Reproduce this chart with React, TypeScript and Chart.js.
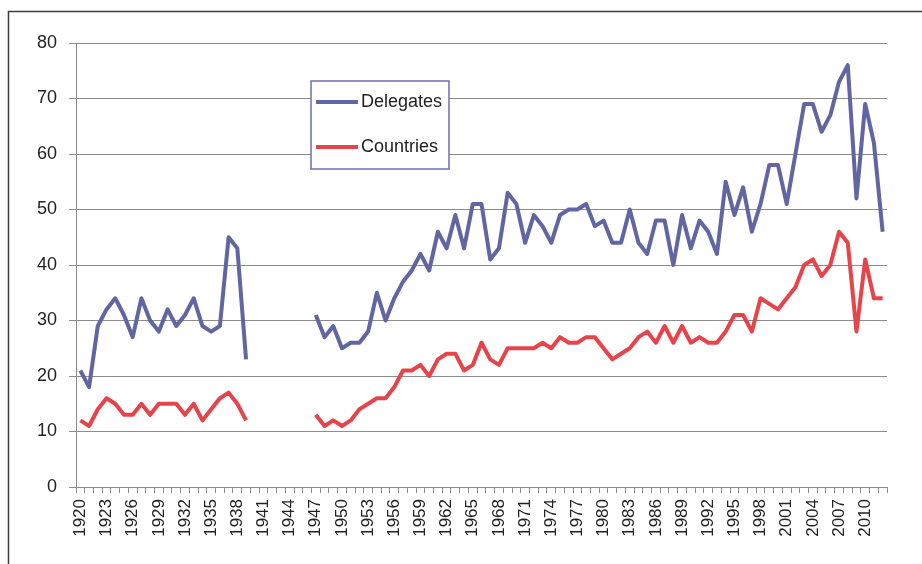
import React, { useEffect, useRef } from "react";
import { Chart, registerables } from "chart.js";

Chart.register(...registerables);

const years: string[] = [
  "1920","1921","1922","1923","1924","1925","1926","1927","1928","1929",
  "1930","1931","1932","1933","1934","1935","1936","1937","1938","1939",
  "1940","1941","1942","1943","1944","1945","1946","1947","1948","1949",
  "1950","1951","1952","1953","1954","1955","1956","1957","1958","1959",
  "1960","1961","1962","1963","1964","1965","1966","1967","1968","1969",
  "1970","1971","1972","1973","1974","1975","1976","1977","1978","1979",
  "1980","1981","1982","1983","1984","1985","1986","1987","1988","1989",
  "1990","1991","1992","1993","1994","1995","1996","1997","1998","1999",
  "2000","2001","2002","2003","2004","2005","2006","2007","2008","2009",
  "2010","2011","2012",
];

const delegates: (number | null)[] = [
  21, 18, 29, 32, 34, 31, 27, 34, 30, 28, 32, 29, 31, 34, 29, 28, 29, 45, 43, 23,
  null, null, null, null, null, null, null,
  31, 27, 29, 25, 26, 26, 28, 35, 30, 34, 37, 39, 42, 39, 46, 43, 49, 43, 51, 51, 41, 43, 53,
  51, 44, 49, 47, 44, 49, 50, 50, 51, 47, 48, 44, 44, 50, 44, 42, 48, 48, 40, 49, 43, 48,
  46, 42, 55, 49, 54, 46, 51, 58, 58, 51, 60, 69, 69, 64, 67, 73, 76, 52, 69, 62, 46,
];

const countries: (number | null)[] = [
  12, 11, 14, 16, 15, 13, 13, 15, 13, 15, 15, 15, 13, 15, 12, 14, 16, 17, 15, 12,
  null, null, null, null, null, null, null,
  13, 11, 12, 11, 12, 14, 15, 16, 16, 18, 21, 21, 22, 20, 23, 24, 24, 21, 22, 26, 23, 22, 25,
  25, 25, 25, 26, 25, 27, 26, 26, 27, 27, 25, 23, 24, 25, 27, 28, 26, 29, 26, 29, 26, 27,
  26, 26, 28, 31, 31, 28, 34, 33, 32, 34, 36, 40, 41, 38, 40, 46, 44, 28, 41, 34, 34,
];

const seriesNames = ["Delegates", "Countries"];
const seriesColors = ["#6166A2", "#E5444B"];
const yMin = 0;
const yMax = 80;
const yStep = 10;
const labelEvery = 3;

const W = 922;
const H = 564;
const FONT = "'Liberation Sans', Arial, sans-serif";

const frameAndLegend = {
  id: "frameAndLegend",
  afterDraw(chart: any) {
    const ctx = chart.ctx;
    ctx.save();
    // outer frame
    ctx.strokeStyle = "#3c3c3c";
    ctx.lineWidth = 1.5;
    ctx.beginPath();
    ctx.moveTo(8.5, H + 5);
    ctx.lineTo(8.5, 11.5);
    ctx.lineTo(W + 5, 11.5);
    ctx.stroke();

    // legend box
    const bx = 311, by = 81, bw = 138, bh = 88;
    ctx.fillStyle = "#ffffff";
    ctx.fillRect(bx, by, bw, bh);
    ctx.strokeStyle = "#6d70a8";
    ctx.lineWidth = 1.5;
    ctx.strokeRect(bx, by, bw, bh);
    const rows = [102, 147];
    chart.data.datasets.forEach((ds: any, i: number) => {
      const y = rows[i];
      ctx.strokeStyle = ds.borderColor;
      ctx.lineWidth = 4;
      ctx.lineCap = "butt";
      ctx.beginPath();
      ctx.moveTo(316, y);
      ctx.lineTo(358, y);
      ctx.stroke();
      ctx.fillStyle = "#222222";
      ctx.font = `18px ${FONT}`;
      ctx.textAlign = "left";
      ctx.textBaseline = "middle";
      ctx.fillText(ds.label, 361, y);
    });
    ctx.restore();
  },
};

export default function App() {
  const ref = useRef<HTMLCanvasElement | null>(null);

  useEffect(() => {
    if (!ref.current) return;
    const chart = new Chart(ref.current, {
      type: "line",
      data: {
        labels: years,
        datasets: [
          {
            label: seriesNames[0],
            data: delegates,
            borderColor: seriesColors[0],
            backgroundColor: seriesColors[0],
            borderWidth: 4,
            pointRadius: 0,
            tension: 0,
            spanGaps: false,
            borderJoinStyle: "round",
          },
          {
            label: seriesNames[1],
            data: countries,
            borderColor: seriesColors[1],
            backgroundColor: seriesColors[1],
            borderWidth: 4,
            pointRadius: 0,
            tension: 0,
            spanGaps: false,
            borderJoinStyle: "round",
          },
        ],
      },
      options: {
        responsive: false,
        animation: false,
        devicePixelRatio: 1,
        layout: { padding: { left: 0, top: 43, right: W - 887, bottom: 0 } },
        plugins: {
          legend: { display: false },
          tooltip: { enabled: false },
        },
        scales: {
          x: {
            type: "category",
            offset: true,
            afterFit(scale: any) {
              scale.height = H - 487;
            },
            grid: {
              drawOnChartArea: false,
              offset: true,
              color: "#8c8c8c",
              tickLength: 6,
              tickColor: "#8c8c8c",
            },
            border: { display: true, color: "#8c8c8c", width: 1 },
            ticks: {
              autoSkip: false,
              maxRotation: 90,
              minRotation: 90,
              padding: 6,
              color: "#222222",
              font: { family: FONT, size: 17 },
              callback(_v: any, i: number) {
                return i % labelEvery === 0 ? years[i] : "";
              },
            },
          },
          y: {
            min: yMin,
            max: yMax,
            afterFit(scale: any) {
              scale.width = 76;
            },
            grid: {
              color: "#8c8c8c",
              lineWidth: 1,
              tickLength: 7,
              tickColor: "#8c8c8c",
            },
            border: { display: true, color: "#8c8c8c", width: 1 },
            ticks: {
              stepSize: yStep,
              padding: 12,
              color: "#222222",
              font: { family: FONT, size: 18 },
            },
          },
        },
      },
      plugins: [frameAndLegend],
    });
    return () => chart.destroy();
  }, []);

  return (
    <div style={{ position: "fixed", left: 0, top: 0, width: W, height: H, background: "#fff" }}>
      <canvas ref={ref} width={W} height={H} style={{ display: "block", width: W, height: H }} />
    </div>
  );
}
